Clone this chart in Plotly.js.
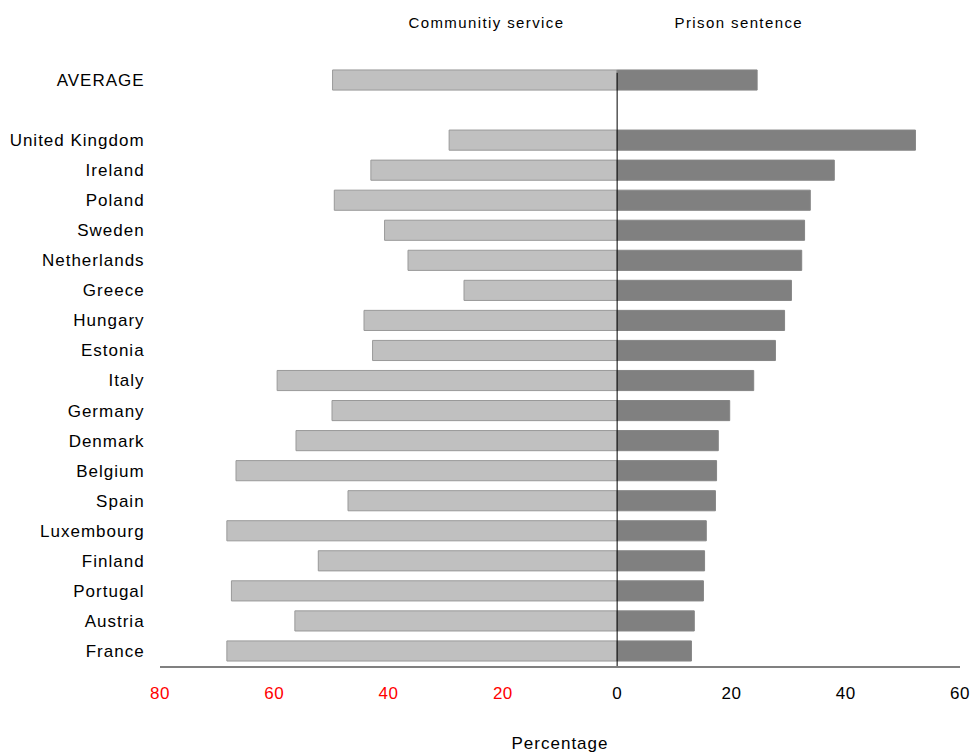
<!DOCTYPE html>
<html>
<head>
<meta charset="utf-8">
<script src="https://cdn.plot.ly/plotly-3.0.1.min.js"></script>
<style>
html,body{margin:0;padding:0;background:#fff;}
#chart{width:972px;height:753px;}
#chart .ytick text{letter-spacing:1px;}
#chart .xtick text{letter-spacing:0.5px;}
#chart .xtitle{letter-spacing:1px;}
#chart .annotation-text{letter-spacing:1.4px;}
</style>
</head>
<body>
<div id="chart"></div>
<script>
// Categories, top to bottom (blank slot separates AVERAGE from countries)
var categories = ['AVERAGE', ' ', 'United Kingdom', 'Ireland', 'Poland', 'Sweden', 'Netherlands',
  'Greece', 'Hungary', 'Estonia', 'Italy', 'Germany', 'Denmark', 'Belgium', 'Spain',
  'Luxembourg', 'Finland', 'Portugal', 'Austria', 'France'];

// Percentage choosing community service (drawn to the left)
var communityService = [49.8, null, 29.4, 43.1, 49.5, 40.7, 36.6,
  26.8, 44.3, 42.8, 59.5, 49.9, 56.2, 66.7, 47.1,
  68.3, 52.3, 67.5, 56.4, 68.3];

// Percentage choosing prison sentence (drawn to the right)
var prisonSentence = [24.5, null, 52.2, 38.0, 33.8, 32.8, 32.3,
  30.5, 29.3, 27.7, 23.9, 19.7, 17.7, 17.4, 17.2,
  15.6, 15.3, 15.1, 13.5, 13.0];

// X tick values and labels (left side shown as positive, in red)
var tickValues = [-80, -60, -40, -20, 0, 20, 40, 60];
var tickLabels = ['80', '60', '40', '20', '0', '20', '40', '60'];

var seriesNames = ['Communitiy service', 'Prison sentence'];

var FONT = '"Liberation Sans", Arial, sans-serif';

var traces = [
  {
    type: 'bar', orientation: 'h', name: seriesNames[0],
    y: categories,
    x: communityService.map(function (v) { return v === null ? null : -v; }),
    width: 0.67,
    marker: { color: '#c0c0c0', line: { color: '#999999', width: 1 } },
    hoverinfo: 'skip'
  },
  {
    type: 'bar', orientation: 'h', name: seriesNames[1],
    y: categories,
    x: prisonSentence,
    width: 0.67,
    marker: { color: '#808080', line: { color: '#858585', width: 1 } },
    hoverinfo: 'skip'
  }
];

var tickText = tickLabels.map(function (t, i) {
  return tickValues[i] < 0 ? '<span style="color:#ff0000">' + t + '</span>' : t;
});

var layout = {
  width: 972, height: 753,
  margin: { l: 160, r: 12, t: 65, b: 87, pad: 0 },
  paper_bgcolor: '#ffffff', plot_bgcolor: '#ffffff',
  showlegend: false,
  barmode: 'overlay',
  font: { family: FONT, size: 17, color: '#000000' },
  xaxis: {
    range: [-80, 60],
    tickvals: tickValues,
    ticktext: tickText,
    tickfont: { family: FONT, size: 17, color: '#000000' },
    ticks: 'outside', ticklen: 11, tickcolor: 'rgba(0,0,0,0)',
    showgrid: false, zeroline: false,
    showline: true, linecolor: '#808080', linewidth: 2,
    title: { text: 'Percentage', font: { family: FONT, size: 17, color: '#000000' }, standoff: 36 },
    fixedrange: true
  },
  yaxis: {
    type: 'category',
    categoryorder: 'array', categoryarray: categories,
    autorange: 'reversed',
    tickfont: { family: FONT, size: 17, color: '#000000' },
    ticks: 'outside', ticklen: 11, tickcolor: 'rgba(0,0,0,0)',
    showgrid: false, zeroline: false, showline: false,
    fixedrange: true
  },
  shapes: [
    { type: 'line', xref: 'x', yref: 'paper', x0: 0, x1: 0, y0: 0, y1: 0.987,
      line: { color: '#000000', width: 1 } }
  ],
  annotations: [
    { text: seriesNames[0], xref: 'x', yref: 'paper', x: -22.9, y: 1.0715,
      xanchor: 'center', yanchor: 'middle', showarrow: false,
      font: { family: FONT, size: 15, color: '#000000' } },
    { text: seriesNames[1], xref: 'x', yref: 'paper', x: 21.4, y: 1.0715,
      xanchor: 'center', yanchor: 'middle', showarrow: false,
      font: { family: FONT, size: 15, color: '#000000' } }
  ]
};

Plotly.newPlot('chart', traces, layout, { displayModeBar: false, staticPlot: true });
</script>
</body>
</html>
